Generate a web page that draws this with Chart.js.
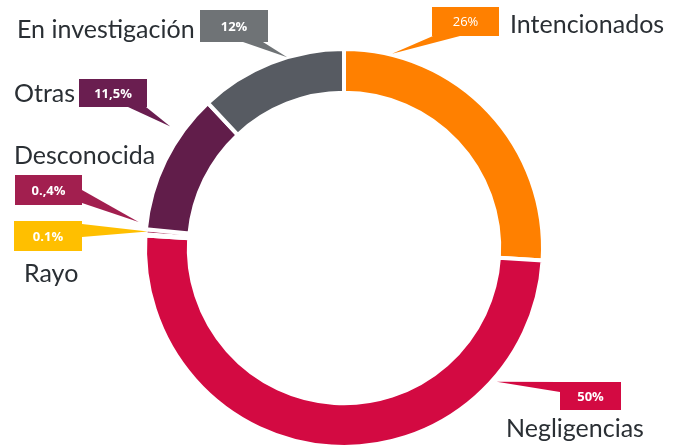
<!DOCTYPE html>
<html>
<head>
<meta charset="utf-8">
<script src="https://cdn.jsdelivr.net/npm/chart.js@4.4.1/dist/chart.umd.min.js"></script>
<style>
  html, body { margin: 0; padding: 0; background: #fff; overflow: hidden; }
  #wrap { position: relative; width: 684px; height: 452px; }
</style>
</head>
<body>
<div id="wrap"><canvas id="grafico"></canvas></div>
<script>
// datos
var categorias = ['Intencionados', 'Negligencias', 'Rayo', 'Desconocida', 'Otras', 'En investigación'];
var valores = [26, 50, 0.1, 0.4, 11.5, 12];
var etiquetas = ['26%', '50%', '0.1%', '0.,4%', '11,5%', '12%'];
var colores = ['#FF8000', '#D30A42', '#FFBF00', '#A21F4F', '#611D4A', '#575B62'];
var coloresCaja = ['#FF8000', '#D30A42', '#FFBF00', '#A21F4F', '#6A1E50', '#6F7376'];

// posicion de cada llamada: caja, base del pico, punta (angulo, radio) y texto
var llamadas = [
  { caja: [432, 7, 67, 29], base: [[433, 36], [460, 36]], punta: [13.9, 200], texto: [510, 33], peso: '400' },
  { caja: [560, 382, 61, 28], base: [[560, 382], [560, 392]], punta: [131.2, 203], texto: [506, 437], peso: '700' },
  { caja: [14, 221, 68, 30], base: [[82, 224], [82, 237]], punta: [274.8, 197], texto: [24, 282], peso: '700' },
  { caja: [15, 175, 67, 30], base: [[82, 190], [82, 203]], punta: [277.2, 207], texto: [14, 164], peso: '700' },
  { caja: [79, 79, 68, 28], base: [[128, 107], [146, 107]], punta: [305, 212], texto: [14, 102], peso: '700' },
  { caja: [200, 10, 68, 32], base: [[243, 42], [263, 42]], punta: [343.4, 199], texto: [17, 38], peso: '700' }
];

var pluginLlamadas = {
  id: 'llamadas',
  afterDraw: function(chart) {
    var ctx = chart.ctx;
    var arco = chart.getDatasetMeta(0).data[0];
    var cx = arco.x, cy = arco.y;
    ctx.save();
    llamadas.forEach(function(l, i) {
      var a = l.punta[0] * Math.PI / 180;
      var px = cx + l.punta[1] * Math.sin(a);
      var py = cy - l.punta[1] * Math.cos(a);
      ctx.fillStyle = coloresCaja[i];
      ctx.beginPath();
      ctx.moveTo(l.base[0][0], l.base[0][1]);
      ctx.lineTo(px, py);
      ctx.lineTo(l.base[1][0], l.base[1][1]);
      ctx.closePath();
      ctx.fill();
      ctx.fillRect(l.caja[0], l.caja[1], l.caja[2], l.caja[3]);

      ctx.fillStyle = '#ffffff';
      ctx.font = l.peso + ' 13px "Open Sans"';
      ctx.textAlign = 'center';
      ctx.textBaseline = 'middle';
      ctx.fillText(etiquetas[i], l.caja[0] + l.caja[2] / 2, l.caja[1] + l.caja[3] / 2 + 1);

      ctx.fillStyle = '#2a2f34';
      ctx.font = '400 25px Lato';
      ctx.textAlign = 'left';
      ctx.textBaseline = 'alphabetic';
      ctx.fillText(categorias[i], l.texto[0], l.texto[1]);
    });
    ctx.restore();
  }
};

var ctxGrafico = document.getElementById('grafico').getContext('2d');
var grafico = new Chart(ctxGrafico, {
    type: 'doughnut',
    data: {
        labels: categorias,
        datasets: [{
            data: valores,
            backgroundColor: colores,
            borderColor: '#ffffff',
            borderWidth: 4
        }]
    },
    options: {
        responsive: true,
        maintainAspectRatio: false,
        animation: false,
        cutout: '78%',
        layout: { padding: { top: 47, bottom: 3, left: 143, right: 139 } },
        plugins: {
            legend: { display: false },
            tooltip: { enabled: false }
        }
    },
    plugins: [pluginLlamadas]
});
</script>
</body>
</html>
